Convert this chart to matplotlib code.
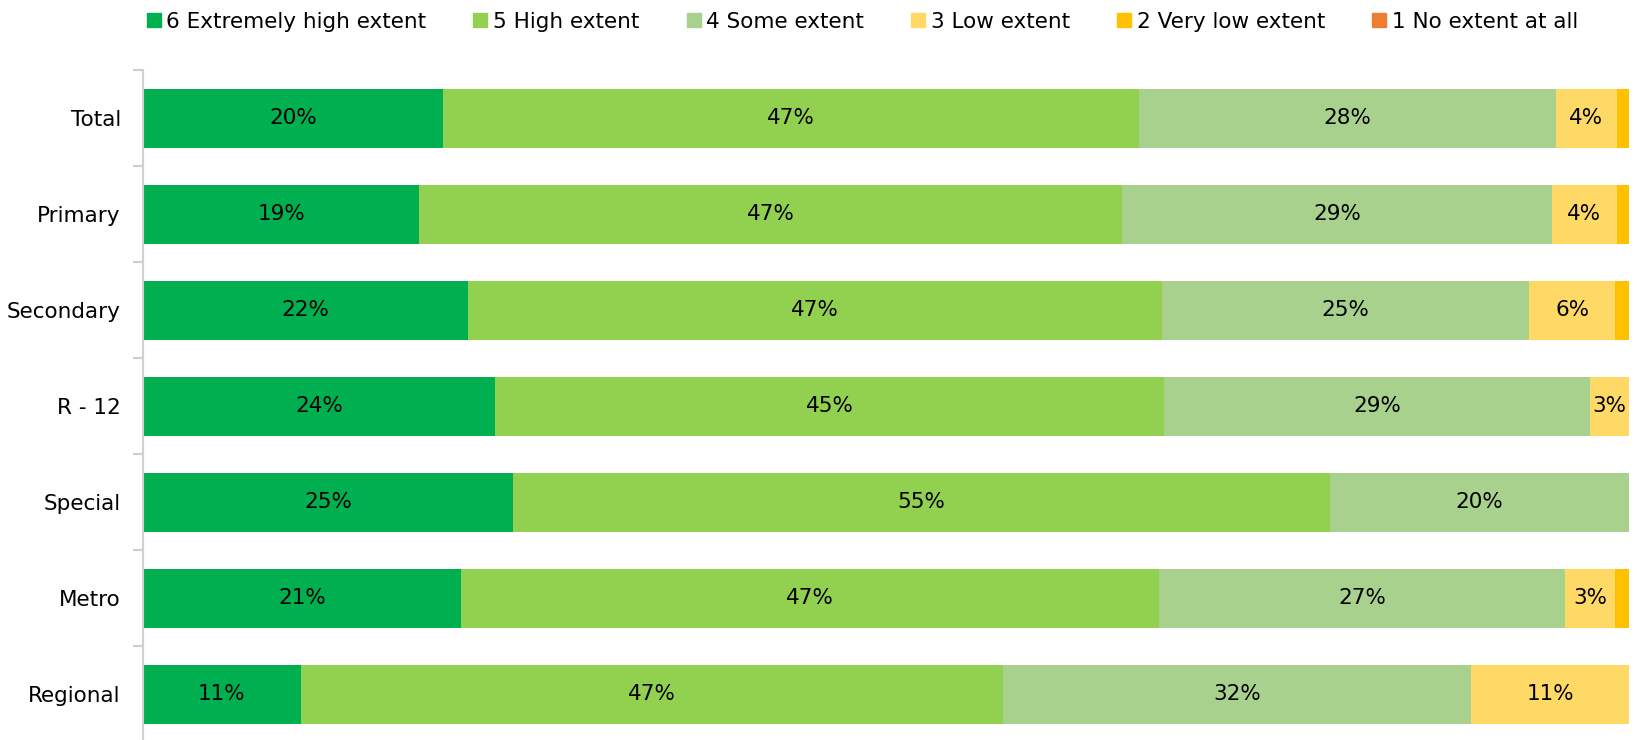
import matplotlib
import numpy as np

matplotlib.use("Agg")
import matplotlib.pyplot as plt  # noqa: E402
from matplotlib.lines import Line2D  # noqa: E402

plt.rcParams["font.family"] = ["DejaVu Sans"]

categories = ["Total", "Primary", "Secondary", "R - 12", "Special", "Metro", "Regional"]
series = ["6 Extremely high extent", "5 High extent", "4 Some extent",
          "3 Low extent", "2 Very low extent", "1 No extent at all"]
colors = ["#00B050", "#92D050", "#A9D18E", "#FFD966", "#FFC000", "#ED7D31"]

extreme = [20.2, 18.6, 21.9, 23.7, 24.9, 21.4, 10.6]
high = [46.8, 47.3, 46.7, 45.0, 55.0, 47.0, 47.3]
some = [28.1, 28.9, 24.7, 28.7, 20.1, 27.3, 31.5]
low = [4.1, 4.4, 5.8, 2.6, 0.0, 3.4, 10.6]
very_low = [0.8, 0.8, 0.9, 0.0, 0.0, 0.9, 0.0]
none_at_all = [0.0, 0.0, 0.0, 0.0, 0.0, 0.0, 0.0]
values = [extreme, high, some, low, very_low, none_at_all]

fig = plt.figure(figsize=(16.37, 7.40), dpi=100)
ax = fig.add_axes([0.0874, -0.003, 0.9076, 0.908])

y = np.arange(len(categories))
left = np.zeros(len(categories))
for name, vals, col in zip(series, values, colors):
    vals = np.array(vals)
    ax.barh(y, vals, left=left, height=0.61, color=col, label=name)
    for yi, (l, v) in enumerate(zip(left, vals)):
        if v >= 2:
            ax.text(l + v / 2, yi, f"{v:.0f}%", ha="center", va="center",
                    fontsize=15.5, color="black")
    left += vals

ax.set_xlim(0, left.max())
ax.set_ylim(len(categories) - 0.5, -0.5)
ax.set_yticks(y)
ax.set_yticklabels(categories, fontsize=15.5)
ax.set_yticks(np.arange(-0.5, len(categories)), minor=True)
ax.tick_params(axis="y", which="major", length=0, pad=16)
ax.tick_params(axis="y", which="minor", length=7, color="#d0d0d0", width=1.5)
ax.set_xticks([])
for s in ["top", "right", "bottom"]:
    ax.spines[s].set_visible(False)
ax.spines["left"].set_color("#d0d0d0")
ax.spines["left"].set_linewidth(1.5)

handles = [Line2D([], [], marker="s", linestyle="none", markersize=10,
                  markerfacecolor=c, markeredgecolor=c) for c in colors]
fig.legend(handles, series, loc="upper center", bbox_to_anchor=(0.527, 1.01),
           ncol=6, frameon=False, fontsize=15.5, handlelength=0.6,
           handletextpad=0.3, columnspacing=2.2)

fig.savefig("out.png", dpi=100)
